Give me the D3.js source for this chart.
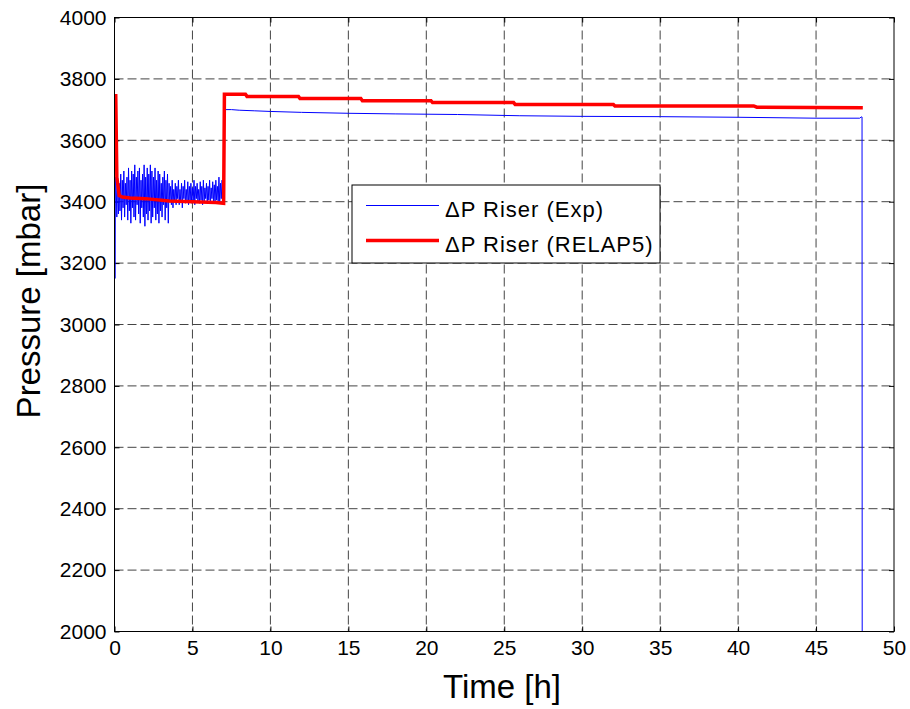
<!DOCTYPE html>
<html>
<head>
<meta charset="utf-8">
<script src="https://cdn.jsdelivr.net/npm/d3@7"></script>
<style>
  html, body { margin: 0; padding: 0; background: #fff; }
  svg { display: block; font-family: "Liberation Sans", Arial, sans-serif; }
</style>
</head>
<body>
<svg id="chart" width="910" height="709"></svg>
<script>
// ---- data ----
const xTicks = [0, 5, 10, 15, 20, 25, 30, 35, 40, 45, 50];
const yTicks = [2000, 2200, 2400, 2600, 2800, 3000, 3200, 3400, 3600, 3800, 4000];

const expTime = [0, 0.03, 0.06,
  0.10,0.15,0.20,0.25,0.30,0.35,0.40,0.45,0.50,0.55,0.60,0.65,0.70,0.75,0.80,0.85,0.90,0.95,
  1.00,1.05,1.10,1.15,1.20,1.25,1.30,1.35,1.40,1.45,1.50,1.55,1.60,1.65,1.70,1.75,1.80,1.85,1.90,1.95,
  2.00,2.05,2.10,2.15,2.20,2.25,2.30,2.35,2.40,2.45,2.50,2.55,2.60,2.65,2.70,2.75,2.80,2.85,2.90,2.95,
  3.00,3.05,3.10,3.15,3.20,3.25,3.30,3.35,3.40,3.45,3.50,3.55,3.60,3.65,3.70,3.75,3.80,3.85,3.90,3.95,
  4.00,4.05,4.10,4.15,4.20,4.25,4.30,4.35,4.40,4.45,4.50,4.55,4.60,4.65,4.70,4.75,4.80,4.85,4.90,4.95,
  5.00,5.05,5.10,5.15,5.20,5.25,5.30,5.35,5.40,5.45,5.50,5.55,5.60,5.65,5.70,5.75,5.80,5.85,5.90,5.95,
  6.00,6.05,6.10,6.15,6.20,6.25,6.30,6.35,6.40,6.45,6.50,6.55,6.60,6.65,6.70,6.75,6.80,6.85,6.90,6.95,7.00,
  7.05, 7.5, 8, 9, 10, 12, 15, 18, 22, 26, 30, 35, 40, 45, 47.8, 47.9, 47.95, 47.96];
const expValue = [3470, 3150, 3480,
  3470,3350,3480,3360,3460,3370,3490,3340,3470,3380,3500,3350,3460,3390,3480,3340,3510,3370,
  3470,3330,3500,3380,3490,3350,3520,3340,3480,3390,3500,3360,3510,3330,3470,3380,3490,3350,3520,3320,
  3480,3360,3510,3340,3490,3370,3520,3330,3500,3350,3480,3380,3510,3340,3470,3360,3500,3330,3490,3370,
  3460,3350,3480,3390,3500,3340,3470,3380,3490,3330,3460,3400,3450,3390,3470,3380,3440,3400,3460,3390,
  3450,3410,3470,3390,3440,3400,3460,3380,3450,3410,3470,3395,3440,3405,3465,3390,3450,3400,3460,3395,
  3445,3405,3470,3390,3450,3410,3460,3400,3440,3395,3465,3405,3450,3390,3470,3400,3445,3410,3460,3395,
  3450,3405,3470,3395,3445,3410,3465,3400,3455,3395,3470,3405,3450,3400,3480,3395,3460,3410,3470,3405,3480,
  3700, 3700, 3698, 3696, 3694, 3691, 3688, 3686, 3684, 3680, 3678, 3677, 3675, 3672, 3672, 3676, 3676, 2000];

const simTime  = [0, 0.08, 0.15, 0.3, 0.5, 1.0, 2.0, 3.5, 5.0, 6.5, 7.0, 7.05, 8.4, 8.5, 11.8, 11.9, 15.8, 15.9, 20.3, 20.4, 25.6, 25.7, 32.0, 32.1, 41.0, 41.2, 48.0];
const simValue = [3745, 3745, 3480, 3420, 3415, 3412, 3410, 3402, 3400, 3397, 3395, 3750, 3750, 3743, 3743, 3736, 3736, 3729, 3729, 3723, 3723, 3717, 3717, 3712, 3712, 3708, 3706];

const seriesNames = ["\u0394P Riser (Exp)", "\u0394P Riser (RELAP5)"];
const xLabel = "Time [h]";
const yLabel = "Pressure [mbar]";

// ---- layout ----
const svg = d3.select("#chart");
const L = 114.5, R = 894, T = 17.5, B = 631.5;
const x = d3.scaleLinear().domain([0, 50]).range([L, R]);
const y = d3.scaleLinear().domain([2000, 4000]).range([B, T]);

// grid
const grid = svg.append("g");
grid.selectAll(".vg").data(xTicks.slice(1, -1)).enter().append("line")
  .attr("x1", d => x(d)).attr("x2", d => x(d)).attr("y1", T).attr("y2", B)
  .attr("stroke", "#444").attr("stroke-width", 1).attr("stroke-dasharray", "9,4");
grid.selectAll(".hg").data(yTicks.slice(1, -1)).enter().append("line")
  .attr("y1", d => y(d)).attr("y2", d => y(d)).attr("x1", L).attr("x2", R)
  .attr("stroke", "#444").attr("stroke-width", 1).attr("stroke-dasharray", "9,4");

// axes
const fs = 21;
const gx = svg.append("g").attr("transform", `translate(0,${B})`)
  .call(d3.axisBottom(x).tickValues(xTicks).tickSize(-5).tickPadding(9).tickFormat(d3.format("d")));
const gxt = svg.append("g").attr("transform", `translate(0,${T})`)
  .call(d3.axisTop(x).tickValues(xTicks).tickSize(-5).tickFormat(""));
const gy = svg.append("g").attr("transform", `translate(${L},0)`)
  .call(d3.axisLeft(y).tickValues(yTicks).tickSize(-5).tickPadding(8).tickFormat(d3.format("d")));
const gyr = svg.append("g").attr("transform", `translate(${R},0)`)
  .call(d3.axisRight(y).tickValues(yTicks).tickSize(-5).tickFormat(""));
[gx, gxt, gy, gyr].forEach(g => {
  g.select(".domain").remove();
  g.selectAll("line").attr("stroke", "#000");
  g.selectAll("text").attr("fill", "#000").style("font-size", fs + "px")
    .style("font-family", "'Liberation Sans', Arial, sans-serif");
});

// data lines
svg.append("clipPath").attr("id", "clip").append("rect")
  .attr("x", L).attr("y", T).attr("width", R - L).attr("height", B - T);
const line = d3.line().x(d => x(d[0])).y(d => y(d[1]));
const expPts = expTime.map((t, i) => [t, expValue[i]]);
const simPts = simTime.map((t, i) => [t, simValue[i]]);

svg.append("path").datum(expPts).attr("d", line)
  .attr("fill", "none").attr("stroke", "#0000ff").attr("stroke-width", 1)
  .attr("clip-path", "url(#clip)");
svg.append("path").datum(simPts).attr("d", line)
  .attr("fill", "none").attr("stroke", "#ff0000").attr("stroke-width", 3.5)
  .attr("stroke-linejoin", "miter");

// frame
svg.append("rect").attr("x", L).attr("y", T).attr("width", R - L).attr("height", B - T)
  .attr("fill", "none").attr("stroke", "#000").attr("stroke-width", 1);

// legend
const lg = svg.append("g");
lg.append("rect").attr("x", 352).attr("y", 185).attr("width", 308).attr("height", 78)
  .attr("fill", "#fff").attr("stroke", "#000").attr("stroke-width", 1);
const legendItems = [
  {name: seriesNames[0], color: "#0000ff", w: 1, yy: 205.5},
  {name: seriesNames[1], color: "#ff0000", w: 3.5, yy: 240.5}
];
legendItems.forEach(it => {
  lg.append("line").attr("x1", 366).attr("x2", 439).attr("y1", it.yy).attr("y2", it.yy)
    .attr("stroke", it.color).attr("stroke-width", it.w);
  lg.append("text").attr("x", 445).attr("y", it.yy + 11).text(it.name)
    .style("font-size", "22px").style("letter-spacing", "1px").attr("fill", "#000");
});

// axis titles
svg.append("text").attr("x", 502).attr("y", 698).attr("text-anchor", "middle")
  .style("font-size", "33px").attr("fill", "#000").text(xLabel);
svg.append("text").attr("transform", "translate(40,301) rotate(-90)").attr("text-anchor", "middle")
  .style("font-size", "33px").attr("fill", "#000").text(yLabel);
</script>
</body>
</html>
